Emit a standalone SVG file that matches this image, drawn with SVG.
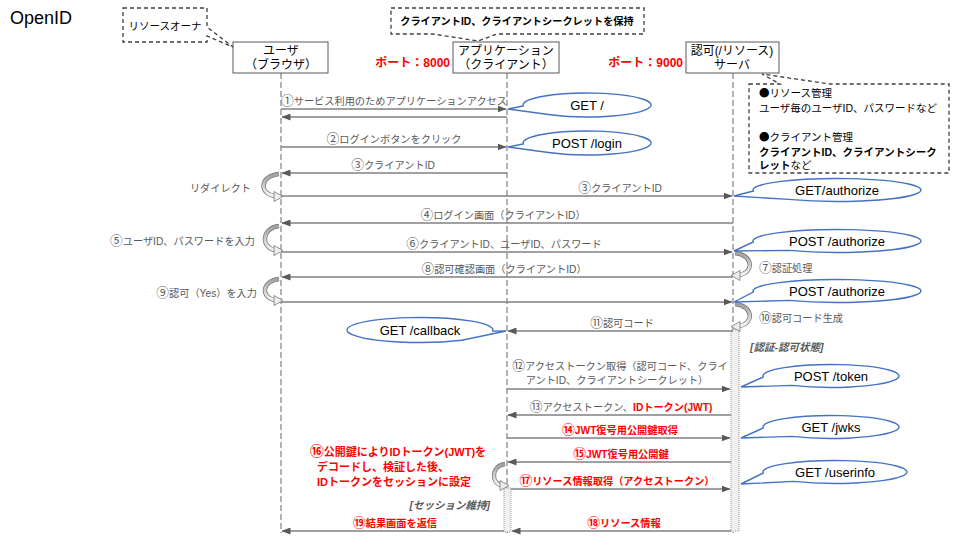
<svg xmlns="http://www.w3.org/2000/svg" width="960" height="540" viewBox="0 0 960 540">
<style>
text{font-family:"Liberation Sans","Noto Sans CJK JP",sans-serif}
.cj{font-family:"Noto Sans CJK JP",sans-serif}
.cd{font-family:"Noto Sans CJK JP",sans-serif;font-size:125%}
.ll{stroke:#808080;stroke-width:1.2;stroke-dasharray:6 3;fill:none}
.box{fill:#fff;stroke:#595959;stroke-width:1}
.bx{font-size:12px;fill:#000;text-anchor:middle}
.port{font-size:12px;font-weight:bold;fill:#ff0000;text-anchor:end}
.msg{stroke:#808080;stroke-width:1.3;fill:none;marker-end:url(#ah)}
.lbl{font-size:10.2px;fill:#595959;text-anchor:middle}
.lbe{font-size:10.2px;fill:#595959;text-anchor:end}
.lbs{font-size:10.2px;fill:#595959;text-anchor:start}
.red{fill:#ff0000;font-weight:bold}
.note{fill:#fff;stroke:#404040;stroke-width:1.3;stroke-dasharray:4 3}
.nt{font-size:10.5px;fill:#000}
.ntc{font-size:10.2px;fill:#000;font-weight:bold;text-anchor:middle}
.ntm{font-size:10.5px;fill:#000;text-anchor:middle}
.b{font-weight:bold}
.bub{fill:#fff;stroke:#4472c4;stroke-width:1.4}
.bt{font-size:13px;fill:#000;text-anchor:middle}
.act{fill:#efefef;stroke:#808080;stroke-width:0.8;stroke-dasharray:1 1}
.state{font-size:10.5px;font-style:italic;font-weight:bold;fill:#595959}
.se{text-anchor:end}
.co{fill:none;stroke:#7a7a7a;stroke-width:4.4}
.ci{fill:none;stroke:url(#cg);stroke-width:2.8}
.ch{fill:#ececec;stroke:#7a7a7a;stroke-width:0.8}
.rt{font-size:11px;font-weight:bold;fill:#ff0000}
</style>
<defs>
<marker id="ah" markerWidth="9" markerHeight="7" refX="8.5" refY="3.5" orient="auto" markerUnits="userSpaceOnUse"><path d="M0,0 L9,3.5 L0,7 Z" fill="#595959"/></marker>
<linearGradient id="cg" x1="0" y1="0" x2="0" y2="1"><stop offset="0" stop-color="#a0a0a0"/><stop offset="1" stop-color="#f6f6f6"/></linearGradient>
</defs>
<rect width="960" height="540" fill="#fff"/>
<text x="10" y="24" font-size="18" fill="#000">OpenID</text>

<g id="user">
<line class="ll" x1="281" y1="73" x2="281" y2="533"/>
<rect class="box" x="233" y="42" width="95" height="31"/>
<text class="bx" x="281" y="55">ユーザ</text>
<text class="bx" x="281" y="69">（ブラウザ）</text>
</g>
<g id="app">
<line class="ll" x1="507" y1="73" x2="507" y2="533"/>
<rect class="box" x="453" y="42" width="106" height="31"/>
<text class="bx" x="506" y="55">アプリケーション</text>
<text class="bx" x="506" y="69">（クライアント）</text>
<text class="port" x="450" y="67">ポート：8000</text>
</g>
<g id="server">
<line class="ll" x1="733" y1="73" x2="733" y2="533"/>
<rect class="box" x="686" y="42" width="93" height="31"/>
<text class="bx" x="732" y="55">認可(/リソース)</text>
<text class="bx" x="732" y="69">サーバ</text>
<text class="port" x="683" y="67">ポート：9000</text>
</g>

<g id="activations">
<rect class="act" x="731" y="330" width="8" height="201"/>
<rect class="act" x="504" y="488" width="7" height="44"/>
<text class="state" x="750" y="351">[認証-認可状態]</text>
<text class="state se" x="490" y="509">[セッション維持]</text>
</g>

<g id="note-owner">
<path class="note" d="M123,8 H207 V27 L233,47 L207,36 V42 H123 Z"/>
<text class="ntm" x="165" y="30">リソースオーナ</text>
</g>
<g id="note-client">
<path class="note" d="M391,8 H644 V34 H497 L478,41 L433,34 H391 Z"/>
<text class="ntc" x="517" y="25">クライアントID、クライアントシークレットを保持</text>
</g>
<g id="note-server">
<path class="note" d="M749,84 H780 L762,74 L830,84 H949 V173 H749 Z"/>
<text class="nt" x="759" y="97"><tspan class="cj">●</tspan>リソース管理</text>
<text class="nt" x="759" y="112">ユーザ毎のユーザID、パスワードなど</text>
<text class="nt" x="759" y="141"><tspan class="cj">●</tspan>クライアント管理</text>
<text class="nt b" x="759" y="156">クライアントID、クライアントシーク</text>
<text class="nt" x="759" y="169"><tspan class="b">レット</tspan>など</text>
</g>

<g id="connectors">
<g id="m1"><line class="msg" x1="281" y1="109" x2="506" y2="109"/><text class="lbl" x="394" y="105"><tspan class="cd">①</tspan>サービス利用のためアプリケーションアクセス</text></g>
<g id="m1r"><line class="msg" x1="507" y1="117" x2="282" y2="117"/></g>
<g id="m2"><line class="msg" x1="281" y1="147" x2="506" y2="147"/><text class="lbl" x="394" y="143"><tspan class="cd">②</tspan>ログインボタンをクリック</text></g>
<g id="m3"><line class="msg" x1="507" y1="173" x2="282" y2="173"/><text class="lbl" x="393" y="169"><tspan class="cd">③</tspan>クライアントID</text></g>
<g id="redirect"><path class="co" d="M279,174 C259,176 259,194 275,196"/><path class="ci" d="M279,174 C259,176 259,194 275,196"/><polygon class="ch" points="274,191.5 283,196.5 274,201.5"/><text class="lbe" x="251" y="192">リダイレクト</text></g>
<g id="m3b"><line class="msg" x1="281" y1="196" x2="732" y2="196"/><text class="lbl" x="620" y="192"><tspan class="cd">③</tspan>クライアントID</text></g>
<g id="m4"><line class="msg" x1="733" y1="223" x2="282" y2="223"/><text class="lbl" x="503" y="219"><tspan class="cd">④</tspan>ログイン画面（クライアントID）</text></g>
<g id="s5"><path class="co" d="M279,226 C261,228 261,248 275,250"/><path class="ci" d="M279,226 C261,228 261,248 275,250"/><polygon class="ch" points="274,245.5 283,250.5 274,255.5"/><text class="lbe" x="255" y="245"><tspan class="cd">⑤</tspan>ユーザID、パスワードを入力</text></g>
<g id="m6"><line class="msg" x1="281" y1="252" x2="732" y2="252"/><text class="lbl" x="504" y="248"><tspan class="cd">⑥</tspan>クライアントID、ユーザID、パスワード</text></g>
<g id="s7"><path class="co" d="M735,253 C754,255 754,273 739,275"/><path class="ci" d="M735,253 C754,255 754,273 739,275"/><polygon class="ch" points="740,270.5 731,275.5 740,280.5"/><text class="lbs" x="759" y="272"><tspan class="cd">⑦</tspan>認証処理</text></g>
<g id="m8"><line class="msg" x1="733" y1="277" x2="282" y2="277"/><text class="lbl" x="504" y="273"><tspan class="cd">⑧</tspan>認可確認画面（クライアントID）</text></g>
<g id="s9"><path class="co" d="M279,279 C261,281 261,298 275,300"/><path class="ci" d="M279,279 C261,281 261,298 275,300"/><polygon class="ch" points="274,295.5 283,300.5 274,305.5"/><text class="lbe" x="257" y="297"><tspan class="cd">⑨</tspan>認可（Yes）を入力</text></g>
<g id="m9"><line class="msg" x1="281" y1="302" x2="732" y2="302"/></g>
<g id="s10"><path class="co" d="M735,304 C754,306 754,324 739,326"/><path class="ci" d="M735,304 C754,306 754,324 739,326"/><polygon class="ch" points="740,321.5 731,326.5 740,331.5"/><text class="lbs" x="759" y="322"><tspan class="cd">⑩</tspan>認可コード生成</text></g>
<g id="m11"><line class="msg" x1="733" y1="331" x2="508" y2="331"/><text class="lbl" x="622" y="327"><tspan class="cd">⑪</tspan>認可コード</text></g>
<g id="m12"><line class="msg" x1="507" y1="389" x2="730" y2="389"/><text class="lbl" x="620" y="370"><tspan class="cd">⑫</tspan>アクセストークン取得（認可コード、クライ</text><text class="lbl" x="617" y="384">アントID、クライアントシークレット）</text></g>
<g id="m13"><line class="msg" x1="731" y1="415" x2="508" y2="415"/><text class="lbl" x="621" y="411"><tspan class="cd">⑬</tspan>アクセストークン、<tspan class="red">IDトークン(JWT)</tspan></text></g>
<g id="m14"><line class="msg" x1="507" y1="438" x2="730" y2="438"/><text class="lbl red" x="620" y="434"><tspan class="cd">⑭</tspan>JWT復号用公開鍵取得</text></g>
<g id="m15"><line class="msg" x1="731" y1="462" x2="508" y2="462"/><text class="lbl red" x="621" y="458"><tspan class="cd">⑮</tspan>JWT復号用公開鍵</text></g>
<g id="s16"><path class="co" d="M505,464 C491,466 491,483 501,485"/><path class="ci" d="M505,464 C491,466 491,483 501,485"/><polygon class="ch" points="500,480.5 509,485.5 500,490.5"/>
<text class="rt"><tspan x="310" y="456"><tspan class="cd">⑯</tspan>公開鍵によりIDトークン(JWT)を</tspan><tspan x="317" y="471">デコードし、検証した後、</tspan><tspan x="317" y="486">IDトークンをセッションに設定</tspan></text></g>
<g id="m17"><line class="msg" x1="511" y1="489" x2="730" y2="489"/><text class="lbl red" x="617" y="485"><tspan class="cd">⑰</tspan>リソース情報取得（アクセストークン）</text></g>
<g id="m18"><line class="msg" x1="731" y1="531" x2="512" y2="531"/><text class="lbl red" x="624" y="527"><tspan class="cd">⑱</tspan>リソース情報</text></g>
<g id="m19"><line class="msg" x1="504" y1="531" x2="282" y2="531"/><text class="lbl red" x="395" y="527"><tspan class="cd">⑲</tspan>結果画面を返信</text></g>
</g>

<g id="bubble-get">
<path class="bub" d="M523.3,106 A64 12 0 1 1 550.3,114.8 L508,109 Z"/>
<text class="bt" x="587" y="110">GET /</text>
</g>
<g id="bubble-login">
<path class="bub" d="M523.3,144 A64 12 0 1 1 550.3,152.8 L508,147 Z"/>
<text class="bt" x="587" y="148">POST /login</text>
</g>
<g id="bubble-authorize-get">
<path class="bub" d="M753.3,191 A84 11.5 0 1 1 788.8,199.4 L734,196 Z"/>
<text class="bt" x="837" y="195">GET/authorize</text>
</g>
<g id="bubble-authorize-post1">
<path class="bub" d="M753.3,242 A84 11.5 0 1 1 788.8,250.4 L734,251 Z"/>
<text class="bt" x="837" y="246">POST /authorize</text>
</g>
<g id="bubble-authorize-post2">
<path class="bub" d="M753.3,292 A84 11.5 0 1 1 788.8,300.4 L734,302 Z"/>
<text class="bt" x="837" y="296">POST /authorize</text>
</g>
<g id="bubble-callback">
<path class="bub" d="M461.9,340.2 A73 12.5 0 1 1 492.7,331.1 L506,331 Z"/>
<text class="bt" x="420" y="335">GET /callback</text>
</g>
<g id="bubble-token">
<path class="bub" d="M763.3,377 A68 11.5 0 1 1 792,385.4 L741,387 Z"/>
<text class="bt" x="831" y="381">POST /token</text>
</g>
<g id="bubble-jwks">
<path class="bub" d="M763.3,428 A68 11.5 0 1 1 792,436.4 L741,438 Z"/>
<text class="bt" x="831" y="432">GET /jwks</text>
</g>
<g id="bubble-userinfo">
<path class="bub" d="M763.3,473 A72 11.5 0 1 1 793.7,481.4 L741,484 Z"/>
<text class="bt" x="835" y="477">GET /userinfo</text>
</g>
</svg>
